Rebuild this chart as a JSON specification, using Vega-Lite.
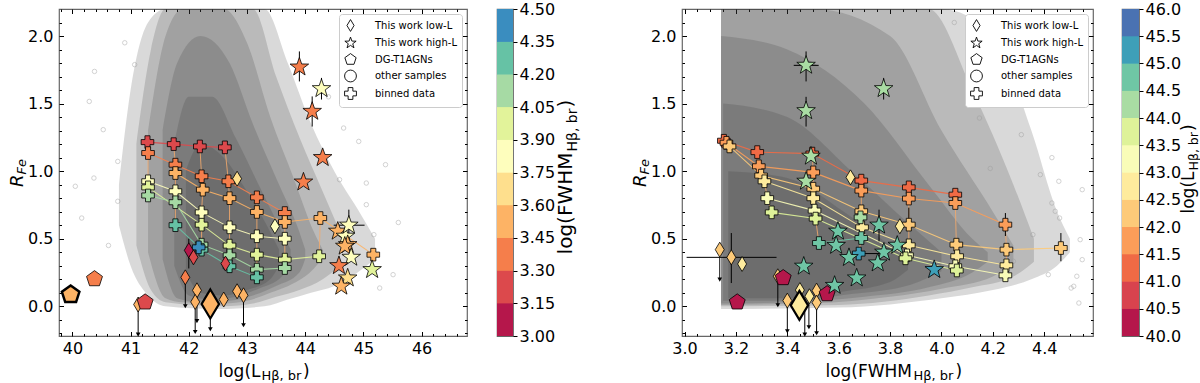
{
"$schema":"https://vega.github.io/schema/vega-lite/v6.json",
"padding":{"left":7,"top":0,"right":0,"bottom":0},
"config":{"font":"DejaVu Sans","view":{"stroke":"#666666","strokeWidth":1.2},
"axis":{"grid":false,"domain":false,"tickColor":"#000000","labelColor":"#000000","titleColor":"#000000","titleFontWeight":"normal","labelFontSize":16,"tickWidth":1},
"legend":{"symbolBaseFillColor":"#ffffff","symbolBaseStrokeColor":"#000000"}},
"datasets":{
"cloud_L":[
{"lev":1,"x":40.8,"lo":0.6,"hi":0.9},{"lev":1,"x":41.0,"lo":0.3,"hi":1.6},{"lev":1,"x":41.3,"lo":0.08,"hi":2.1},{"lev":1,"x":41.6,"lo":0.0,"hi":2.2},{"lev":1,"x":42.5,"lo":-0.02,"hi":2.2},{"lev":1,"x":43.3,"lo":0.0,"hi":2.2},{"lev":1,"x":43.7,"lo":0.05,"hi":1.8},{"lev":1,"x":44.1,"lo":0.1,"hi":1.35},{"lev":1,"x":44.5,"lo":0.15,"hi":1.0},{"lev":1,"x":44.9,"lo":0.25,"hi":0.72},{"lev":1,"x":45.2,"lo":0.35,"hi":0.5},
{"lev":2,"x":41.1,"lo":0.45,"hi":1.2},{"lev":2,"x":41.35,"lo":0.12,"hi":1.9},{"lev":2,"x":41.6,"lo":0.03,"hi":2.2},{"lev":2,"x":42.6,"lo":0.0,"hi":2.2},{"lev":2,"x":43.1,"lo":0.02,"hi":2.2},{"lev":2,"x":43.5,"lo":0.07,"hi":1.7},{"lev":2,"x":43.9,"lo":0.12,"hi":1.25},{"lev":2,"x":44.3,"lo":0.2,"hi":0.85},{"lev":2,"x":44.6,"lo":0.3,"hi":0.55},
{"lev":3,"x":41.3,"lo":0.4,"hi":1.3},{"lev":3,"x":41.6,"lo":0.06,"hi":2.0},{"lev":3,"x":41.9,"lo":0.03,"hi":2.2},{"lev":3,"x":42.6,"lo":0.02,"hi":2.2},{"lev":3,"x":43.0,"lo":0.04,"hi":1.95},{"lev":3,"x":43.4,"lo":0.1,"hi":1.4},{"lev":3,"x":43.8,"lo":0.17,"hi":0.95},{"lev":3,"x":44.15,"lo":0.28,"hi":0.55},{"lev":3,"x":44.3,"lo":0.36,"hi":0.42},
{"lev":4,"x":41.55,"lo":0.35,"hi":1.3},{"lev":4,"x":41.8,"lo":0.06,"hi":1.8},{"lev":4,"x":42.2,"lo":0.03,"hi":2.0},{"lev":4,"x":42.7,"lo":0.04,"hi":1.8},{"lev":4,"x":43.1,"lo":0.08,"hi":1.35},{"lev":4,"x":43.5,"lo":0.15,"hi":0.95},{"lev":4,"x":43.9,"lo":0.25,"hi":0.55},{"lev":4,"x":44.0,"lo":0.35,"hi":0.42},
{"lev":5,"x":41.75,"lo":0.3,"hi":1.2},{"lev":5,"x":42.0,"lo":0.08,"hi":1.55},{"lev":5,"x":42.4,"lo":0.05,"hi":1.55},{"lev":5,"x":42.8,"lo":0.07,"hi":1.25},{"lev":5,"x":43.2,"lo":0.13,"hi":0.9},{"lev":5,"x":43.6,"lo":0.22,"hi":0.55},{"lev":5,"x":43.75,"lo":0.33,"hi":0.42},
{"lev":6,"x":41.95,"lo":0.25,"hi":1.0},{"lev":6,"x":42.2,"lo":0.1,"hi":1.2},{"lev":6,"x":42.6,"lo":0.08,"hi":1.1},{"lev":6,"x":43.0,"lo":0.12,"hi":0.85},{"lev":6,"x":43.4,"lo":0.2,"hi":0.55},{"lev":6,"x":43.55,"lo":0.3,"hi":0.42}],
"cloud_F":[
{"lev":1,"x":3.142,"lo":-0.02,"hi":2.2},{"lev":1,"x":3.6,"lo":-0.01,"hi":2.2},{"lev":1,"x":4.0,"lo":0.06,"hi":2.2},{"lev":1,"x":4.2,"lo":0.12,"hi":2.0},{"lev":1,"x":4.35,"lo":0.2,"hi":1.3},{"lev":1,"x":4.45,"lo":0.3,"hi":0.7},{"lev":1,"x":4.5,"lo":0.4,"hi":0.5},
{"lev":2,"x":3.142,"lo":0.0,"hi":2.2},{"lev":2,"x":3.6,"lo":0.01,"hi":2.2},{"lev":2,"x":3.95,"lo":0.08,"hi":2.2},{"lev":2,"x":4.12,"lo":0.14,"hi":1.6},{"lev":2,"x":4.28,"lo":0.22,"hi":0.9},{"lev":2,"x":4.36,"lo":0.33,"hi":0.5},
{"lev":3,"x":3.142,"lo":0.01,"hi":2.2},{"lev":3,"x":3.5,"lo":0.02,"hi":2.2},{"lev":3,"x":3.8,"lo":0.07,"hi":2.0},{"lev":3,"x":4.0,"lo":0.13,"hi":1.3},{"lev":3,"x":4.2,"lo":0.22,"hi":0.7},{"lev":3,"x":4.28,"lo":0.32,"hi":0.45},
{"lev":4,"x":3.142,"lo":0.02,"hi":2.0},{"lev":4,"x":3.4,"lo":0.03,"hi":1.9},{"lev":4,"x":3.7,"lo":0.07,"hi":1.5},{"lev":4,"x":3.95,"lo":0.14,"hi":0.9},{"lev":4,"x":4.12,"lo":0.25,"hi":0.5},{"lev":4,"x":4.18,"lo":0.33,"hi":0.4},
{"lev":5,"x":3.15,"lo":0.04,"hi":1.5},{"lev":5,"x":3.4,"lo":0.04,"hi":1.4},{"lev":5,"x":3.65,"lo":0.09,"hi":1.0},{"lev":5,"x":3.88,"lo":0.16,"hi":0.6},{"lev":5,"x":4.0,"lo":0.26,"hi":0.4},
{"lev":6,"x":3.17,"lo":0.06,"hi":1.0},{"lev":6,"x":3.4,"lo":0.06,"hi":0.95},{"lev":6,"x":3.62,"lo":0.11,"hi":0.7},{"lev":6,"x":3.8,"lo":0.18,"hi":0.45},{"lev":6,"x":3.87,"lo":0.27,"hi":0.35}],
"oth_L":[{"x":40.16,"y":0.653},{"x":40.37,"y":0.949},{"x":40.05,"y":0.888},{"x":40.53,"y":1.307},{"x":40.38,"y":1.738},{"x":40.29,"y":1.516},{"x":40.78,"y":1.072},{"x":45.05,"y":0.912},{"x":45.51,"y":0.234},{"x":45.28,"y":0.135},{"x":45.18,"y":0.53},{"x":44.59,"y":0.937},{"x":45.38,"y":1.048},{"x":45.05,"y":0.752},{"x":41.07,"y":1.788},{"x":40.78,"y":0.777},{"x":44.92,"y":1.22},{"x":44.66,"y":1.319},{"x":40.62,"y":0.45},{"x":40.9,"y":1.95},{"x":45.6,"y":0.62},{"x":44.4,"y":1.55}],
"oth_F":[{"x":4.535,"y":0.024},{"x":4.527,"y":0.222},{"x":4.43,"y":0.764},{"x":4.385,"y":0.974},{"x":4.311,"y":1.27},{"x":4.237,"y":1.64},{"x":4.16,"y":1.886},{"x":4.356,"y":0.53},{"x":4.46,"y":0.653},{"x":4.505,"y":0.135},{"x":4.416,"y":0.234},{"x":4.28,"y":0.333},{"x":4.19,"y":1.02},{"x":4.148,"y":1.393},{"x":4.457,"y":0.925},{"x":4.548,"y":0.863},{"x":4.443,"y":0.703},{"x":4.54,"y":0.493},{"x":4.548,"y":0.345},{"x":4.515,"y":0.148},{"x":4.43,"y":1.1},{"x":4.25,"y":2.05},{"x":4.3,"y":1.75},{"x":4.05,"y":2.1}],
"bin_L":[
{"x":41.29,"y":1.215,"c":3.22,"row":"A","col":1},{"x":41.74,"y":1.2,"c":3.22,"row":"A","col":2},{"x":42.19,"y":1.183,"c":3.22,"row":"A","col":3},{"x":42.62,"y":1.176,"c":3.22,"row":"A","col":4},
{"x":41.3,"y":1.134,"c":3.37,"row":"B","col":1},{"x":41.77,"y":1.048,"c":3.37,"row":"B","col":2},{"x":42.22,"y":0.962,"c":3.37,"row":"B","col":3},{"x":42.68,"y":0.925,"c":3.37,"row":"B","col":4},{"x":43.17,"y":0.806,"c":3.37,"row":"B","col":5},{"x":43.65,"y":0.69,"c":3.37,"row":"B","col":6},
{"x":41.77,"y":0.986,"c":3.52,"row":"C","col":2},{"x":42.24,"y":0.863,"c":3.52,"row":"C","col":3},{"x":42.7,"y":0.8,"c":3.52,"row":"C","col":4},{"x":43.17,"y":0.698,"c":3.52,"row":"C","col":5},{"x":43.65,"y":0.624,"c":3.52,"row":"C","col":6},{"x":44.26,"y":0.653,"c":3.52,"row":"C","col":7},{"x":45.17,"y":0.382,"c":3.52,"row":"C","col":8},
{"x":41.3,"y":0.925,"c":3.82,"row":"D","col":1},{"x":41.77,"y":0.851,"c":3.82,"row":"D","col":2},{"x":42.22,"y":0.695,"c":3.82,"row":"D","col":3},{"x":42.7,"y":0.584,"c":3.82,"row":"D","col":4},{"x":43.17,"y":0.518,"c":3.82,"row":"D","col":5},{"x":43.65,"y":0.5,"c":3.82,"row":"D","col":6},
{"x":41.3,"y":0.88,"c":3.97,"row":"E","col":1},{"x":42.22,"y":0.604,"c":3.97,"row":"E","col":3},{"x":42.7,"y":0.449,"c":3.97,"row":"E","col":4},{"x":43.17,"y":0.382,"c":3.97,"row":"E","col":5},{"x":43.65,"y":0.345,"c":3.97,"row":"E","col":6},{"x":44.24,"y":0.37,"c":3.97,"row":"E","col":7},
{"x":41.3,"y":0.82,"c":4.12,"row":"F","col":1},{"x":41.77,"y":0.77,"c":4.12,"row":"F","col":2},{"x":42.22,"y":0.456,"c":4.12,"row":"F","col":3},{"x":42.7,"y":0.377,"c":4.12,"row":"F","col":4},{"x":43.17,"y":0.271,"c":4.12,"row":"F","col":5},{"x":43.65,"y":0.283,"c":4.12,"row":"F","col":6},
{"x":41.77,"y":0.6,"c":4.27,"row":"G","col":2},{"x":42.22,"y":0.419,"c":4.27,"row":"G","col":3},{"x":42.7,"y":0.296,"c":4.27,"row":"G","col":4},{"x":43.17,"y":0.214,"c":4.27,"row":"G","col":5},
{"x":42.17,"y":0.436,"c":4.4,"row":"X","col":9}],
"bin_F":[
{"x":3.153,"y":1.225,"c":41.2,"row":"R1","col":1},{"x":3.283,"y":1.141,"c":41.2,"row":"R1","col":2},{"x":3.497,"y":1.13,"c":41.2,"row":"R1","col":3},{"x":3.688,"y":0.93,"c":41.2,"row":"R1","col":4},{"x":3.873,"y":0.88,"c":41.2,"row":"R1","col":5},{"x":4.054,"y":0.826,"c":41.2,"row":"R1","col":6},
{"x":3.163,"y":1.21,"c":41.7,"row":"R2","col":1},{"x":3.289,"y":1.036,"c":41.7,"row":"R2","col":2},{"x":3.501,"y":0.991,"c":41.7,"row":"R2","col":3},{"x":3.688,"y":0.856,"c":41.7,"row":"R2","col":4},{"x":3.873,"y":0.797,"c":41.7,"row":"R2","col":5},{"x":4.054,"y":0.764,"c":41.7,"row":"R2","col":6},{"x":4.249,"y":0.604,"c":41.7,"row":"R2","col":7},
{"x":3.175,"y":1.183,"c":42.2,"row":"R3","col":1},{"x":3.298,"y":0.967,"c":42.2,"row":"R3","col":2},{"x":3.501,"y":0.87,"c":42.2,"row":"R3","col":3},{"x":3.688,"y":0.703,"c":42.2,"row":"R3","col":4},{"x":3.873,"y":0.604,"c":42.2,"row":"R3","col":5},{"x":4.058,"y":0.456,"c":42.2,"row":"R3","col":6},{"x":4.253,"y":0.419,"c":42.2,"row":"R3","col":7},{"x":4.465,"y":0.431,"c":42.2,"row":"R3","col":8},
{"x":3.311,"y":0.925,"c":42.7,"row":"R4","col":2},{"x":3.501,"y":0.8,"c":42.7,"row":"R4","col":3},{"x":3.691,"y":0.584,"c":42.7,"row":"R4","col":4},{"x":3.873,"y":0.451,"c":42.7,"row":"R4","col":5},{"x":4.061,"y":0.37,"c":42.7,"row":"R4","col":6},{"x":4.253,"y":0.303,"c":42.7,"row":"R4","col":7},
{"x":3.322,"y":0.8,"c":43.2,"row":"R5","col":2},{"x":3.506,"y":0.708,"c":43.2,"row":"R5","col":3},{"x":3.866,"y":0.377,"c":43.2,"row":"R5","col":5},{"x":4.054,"y":0.296,"c":43.2,"row":"R5","col":6},{"x":4.249,"y":0.229,"c":43.2,"row":"R5","col":7},
{"x":3.339,"y":0.695,"c":43.7,"row":"R6","col":2},{"x":3.51,"y":0.649,"c":43.7,"row":"R6","col":3},{"x":3.86,"y":0.355,"c":43.7,"row":"R6","col":5},{"x":4.06,"y":0.265,"c":43.7,"row":"R6","col":6},
{"x":3.685,"y":0.658,"c":44.2,"row":"R7","col":4},
{"x":3.523,"y":0.468,"c":44.7,"row":"R8","col":3},{"x":3.688,"y":0.505,"c":44.7,"row":"R8","col":4},
{"x":3.678,"y":0.39,"c":45.2,"row":"R9","col":4}],
"dia_L":[{"x":42.83,"y":0.944,"c":3.7},{"x":43.48,"y":0.592,"c":3.82},{"x":42.0,"y":0.414,"c":3.14},{"x":42.08,"y":0.362,"c":3.2},{"x":42.63,"y":0.316,"c":3.2},{"x":41.94,"y":0.214,"c":3.37},{"x":42.14,"y":0.118,"c":3.52},{"x":42.11,"y":0.032,"c":3.52},{"x":42.6,"y":0.05,"c":3.52},{"x":42.83,"y":0.111,"c":3.52},{"x":42.94,"y":0.081,"c":3.52},{"x":41.13,"y":0.013,"c":3.52},{"x":42.37,"y":0.017,"c":3.52,"stacked":true}],
"pent_L":[{"x":40.38,"y":0.202,"c":3.37},{"x":41.25,"y":0.03,"c":3.2},{"x":39.97,"y":0.086,"c":3.52,"stacked":true}],
"star_L":[{"x":43.9,"y":1.77,"c":3.37},{"x":44.28,"y":1.61,"c":3.82},{"x":44.12,"y":1.442,"c":3.37},{"x":44.3,"y":1.1,"c":3.37},{"x":43.97,"y":0.919,"c":3.37},{"x":44.56,"y":0.555,"c":3.52},{"x":44.69,"y":0.518,"c":3.82},{"x":44.73,"y":0.456,"c":3.52},{"x":44.68,"y":0.444,"c":3.52},{"x":44.79,"y":0.362,"c":3.82},{"x":44.58,"y":0.3,"c":3.37},{"x":45.15,"y":0.271,"c":3.97},{"x":44.73,"y":0.209,"c":3.7},{"x":44.62,"y":0.148,"c":3.52},{"x":44.75,"y":0.6,"c":3.82}],
"errv_L":[{"x":43.9,"y":1.664,"y2":1.886},{"x":44.28,"y":1.53,"y2":1.69},{"x":44.12,"y":1.33,"y2":1.553},{"x":44.75,"y":0.48,"y2":0.715},{"x":42.0,"y":0.28,"y2":0.5}],
"errh_L":[{"x":44.49,"x2":45.02,"y":0.6}],
"lim_L":[{"x":41.94,"y":0.214,"lo":0.0},{"x":42.14,"y":0.118,"lo":-0.11},{"x":42.11,"y":0.032,"lo":-0.19},{"x":42.37,"y":0.017,"lo":-0.17},{"x":42.94,"y":0.081,"lo":-0.14},{"x":41.13,"y":0.013,"lo":-0.21}],
"dia_F":[{"x":3.646,"y":0.954,"c":42.8},{"x":3.838,"y":0.592,"c":42.8},{"x":3.137,"y":0.419,"c":42.1},{"x":3.182,"y":0.362,"c":42.1},{"x":3.224,"y":0.313,"c":42.7},{"x":3.363,"y":0.222,"c":42.1},{"x":3.4,"y":0.042,"c":42.1},{"x":3.449,"y":0.12,"c":42.7},{"x":3.486,"y":0.074,"c":42.7},{"x":3.514,"y":0.116,"c":42.2},{"x":3.514,"y":0.027,"c":42.2},{"x":3.447,"y":0.007,"c":42.7,"stacked":true}],
"pent_F":[{"x":3.205,"y":0.03,"c":40.2},{"x":3.384,"y":0.21,"c":40.2},{"x":3.555,"y":0.091,"c":40.2}],
"star_F":[{"x":3.473,"y":1.783,"c":44.1},{"x":3.473,"y":1.447,"c":44.1},{"x":3.775,"y":1.61,"c":44.1},{"x":3.492,"y":1.11,"c":44.1},{"x":3.473,"y":0.925,"c":44.1},{"x":3.597,"y":0.555,"c":44.7},{"x":3.59,"y":0.45,"c":44.7},{"x":3.828,"y":0.451,"c":44.7},{"x":3.776,"y":0.4,"c":44.7},{"x":3.64,"y":0.36,"c":44.7},{"x":3.752,"y":0.32,"c":44.7},{"x":3.464,"y":0.296,"c":44.7},{"x":3.972,"y":0.271,"c":45.2},{"x":3.67,"y":0.209,"c":44.7},{"x":3.584,"y":0.154,"c":44.7},{"x":3.757,"y":0.6,"c":44.7}],
"errv_F":[{"x":3.473,"y":1.664,"y2":1.886},{"x":3.473,"y":1.33,"y2":1.55},{"x":3.775,"y":1.53,"y2":1.69},{"x":3.757,"y":0.48,"y2":0.715},{"x":3.182,"y":0.172,"y2":0.542},{"x":4.249,"y":0.52,"y2":0.69},{"x":4.465,"y":0.333,"y2":0.542},{"x":3.873,"y":0.6,"y2":0.73}],
"errh_F":[{"x":3.425,"x2":3.522,"y":1.783},{"x":3.008,"x2":3.358,"y":0.362},{"x":3.685,"x2":3.76,"y":0.39}],
"lim_F":[{"x":3.137,"y":0.419,"lo":0.197},{"x":3.363,"y":0.222,"lo":0.007},{"x":3.4,"y":0.042,"lo":-0.185},{"x":3.468,"y":0.007,"lo":-0.21},{"x":3.484,"y":0.074,"lo":-0.155},{"x":3.514,"y":0.116,"lo":-0.2}],
"cb_L":[{"lo":3.0,"hi":3.15},{"lo":3.15,"hi":3.3},{"lo":3.3,"hi":3.45},{"lo":3.45,"hi":3.6},{"lo":3.6,"hi":3.75},{"lo":3.75,"hi":3.9},{"lo":3.9,"hi":4.05},{"lo":4.05,"hi":4.2},{"lo":4.2,"hi":4.35},{"lo":4.35,"hi":4.5}],
"cb_F":[{"lo":40,"hi":40.5},{"lo":40.5,"hi":41},{"lo":41,"hi":41.5},{"lo":41.5,"hi":42},{"lo":42,"hi":42.5},{"lo":42.5,"hi":43},{"lo":43,"hi":43.5},{"lo":43.5,"hi":44},{"lo":44,"hi":44.5},{"lo":44.5,"hi":45},{"lo":45,"hi":45.5},{"lo":45.5,"hi":46}]
},
"hconcat":[
{"hconcat":[
{"width":408,"height":327,
"layer":[
{"data":{"name":"cloud_L"},"mark":{"type":"area","interpolate":"monotone","color":"#333333","opacity":0.19,"clip":true},
"encoding":{"x":{"field":"x","type":"quantitative","scale":{"domain":[39.77,46.78],"nice":false,"zero":false},
"axis":{"orient":"bottom","values":[40,41,42,43,44,45,46],"format":"d","tickSize":-4.5,"labelPadding":9,"labelFontSize":16,"labelFlush":false,"labelOverlap":false,"title":"log(L","titleFontSize":17,"titleX":201,"titleY":40,"titleAlign":"right","titleBaseline":"alphabetic","titleAngle":0}},
"y":{"field":"lo","type":"quantitative","stack":null,"scale":{"domain":[-0.22,2.2],"nice":false,"zero":false},
"axis":{"orient":"left","values":[0,0.5,1,1.5,2],"format":".1f","tickSize":-4.5,"labelPadding":10.5,"labelFontSize":16,"labelFlush":false,"labelOverlap":false,"title":"R","titleFontSize":18,"titleFontStyle":"italic","titleAngle":270,"titleX":-37,"titleY":171.25,"titleAlign":"center","titleBaseline":"alphabetic"}},
"y2":{"field":"hi"},
"detail":{"field":"lev","type":"nominal"}}},
{"data":{"name":"oth_L"},"mark":{"type":"point","filled":false,"color":"#9a9a9a","strokeWidth":0.8,"opacity":0.55,"size":20},
"encoding":{"x":{"field":"x","type":"quantitative","scale":{"domain":[39.77,46.78],"nice":false,"zero":false},
"axis":{"orient":"bottom","values":[39.8,40.2,40.4,40.6,40.8,41.2,41.4,41.6,41.8,42.2,42.4,42.6,42.8,43.2,43.4,43.6,43.8,44.2,44.4,44.6,44.8,45.2,45.4,45.6,45.8,46.2,46.4,46.6],"tickSize":-2.5,"labels":false,"title":"Hβ, br","titleFontSize":13,"titleX":202,"titleY":43,"titleAlign":"left","titleBaseline":"alphabetic","titleAngle":0}},
"y":{"field":"y","type":"quantitative","scale":{"domain":[-0.22,2.2],"nice":false,"zero":false},
"axis":{"orient":"left","values":[-0.2,-0.1,0.1,0.2,0.3,0.4,0.6,0.7,0.8,0.9,1.1,1.2,1.3,1.4,1.6,1.7,1.8,1.9,2.1],"tickSize":-2.5,"labels":false,"title":"Fe","titleFontSize":13,"titleFontStyle":"italic","titleAngle":270,"titleX":-33.5,"titleY":157.25,"titleAlign":"center","titleBaseline":"alphabetic"}},
"shape":{"datum":"other samples","type":"nominal","scale":{"domain":["This work low-L","This work high-L","DG-T1AGNs","other samples","binned data"],"range":["M0,-1L0.6,0L0,1L-0.6,0Z","M0,-1L0.235,-0.324L0.951,-0.309L0.38,0.124L0.588,0.809L0,0.4L-0.588,0.809L-0.38,0.124L-0.951,-0.309L-0.235,-0.324Z","M0,-1L0.951,-0.309L0.588,0.809L-0.588,0.809L-0.951,-0.309Z","circle","cross"]},
"legend":{"title":null,"orient":"top-right","offset":5,"padding":5,"fillColor":"#ffffff","strokeColor":"#cccccc","cornerRadius":3,"labelFontSize":10,"labelColor":"#000000","symbolSize":140,"symbolFillColor":"#ffffff","symbolStrokeColor":"#000000","symbolStrokeWidth":0.9,"symbolOpacity":1,"labelOffset":18,"rowPadding":0.5}}}},
{"data":{"name":"bin_L"},"mark":{"type":"line","color":"#f3a96b","strokeWidth":1,"opacity":0.85},
"encoding":{"x":{"field":"x","type":"quantitative","scale":{"domain":[39.77,46.78],"nice":false,"zero":false},
"axis":{"orient":"top","values":[40,41,42,43,44,45,46],"tickSize":-4.5,"labels":false,"title":null}},
"y":{"field":"y","type":"quantitative","scale":{"domain":[-0.22,2.2],"nice":false,"zero":false},
"axis":{"orient":"right","values":[0,0.5,1,1.5,2],"tickSize":-4.5,"labels":false,"title":null}},
"detail":{"field":"col","type":"nominal"},"order":{"field":"y","type":"quantitative"}}},
{"data":{"name":"bin_L"},"mark":{"type":"line","strokeWidth":1.1,"opacity":0.9},
"encoding":{"x":{"field":"x","type":"quantitative","scale":{"domain":[39.77,46.78],"nice":false,"zero":false},
"axis":{"orient":"top","values":[39.8,40.2,40.4,40.6,40.8,41.2,41.4,41.6,41.8,42.2,42.4,42.6,42.8,43.2,43.4,43.6,43.8,44.2,44.4,44.6,44.8,45.2,45.4,45.6,45.8,46.2,46.4,46.6],"tickSize":-2.5,"labels":false,"title":null}},
"y":{"field":"y","type":"quantitative","scale":{"domain":[-0.22,2.2],"nice":false,"zero":false},
"axis":{"orient":"right","values":[-0.2,-0.1,0.1,0.2,0.3,0.4,0.6,0.7,0.8,0.9,1.1,1.2,1.3,1.4,1.6,1.7,1.8,1.9,2.1],"tickSize":-2.5,"labels":false,"title":null}},
"color":{"field":"c","type":"quantitative","scale":{"type":"threshold","domain":[3.15,3.3,3.45,3.6,3.75,3.9,4.05,4.2,4.35],"range":["#b5174b","#dc494c","#f57e4b","#fdb365","#fedf8d","#fefebd","#e2f39a","#a6daa4","#66c2a5","#3a8dbf"]},"legend":null},
"detail":{"field":"row","type":"nominal"}}},
{"data":{"name":"errv_L"},"mark":{"type":"rule","color":"#000000","strokeWidth":1},
"encoding":{"x":{"field":"x","type":"quantitative","scale":{"domain":[39.77,46.78],"nice":false,"zero":false},"axis":null},"y":{"field":"y","type":"quantitative","scale":{"domain":[-0.22,2.2],"nice":false,"zero":false},"axis":null},"y2":{"field":"y2"}}},
{"data":{"name":"errh_L"},"mark":{"type":"rule","color":"#000000","strokeWidth":1},
"encoding":{"x":{"field":"x","type":"quantitative","scale":{"domain":[39.77,46.78],"nice":false,"zero":false},
"axis":{"orient":"bottom","ticks":false,"labels":false,"title":")","titleFontSize":17,"titleX":243.5,"titleY":40,"titleAlign":"left","titleBaseline":"alphabetic","titleAngle":0}},"x2":{"field":"x2"},"y":{"field":"y","type":"quantitative","scale":{"domain":[-0.22,2.2],"nice":false,"zero":false},"axis":null}}},
{"data":{"name":"lim_L"},"mark":{"type":"rule","color":"#000000","strokeWidth":1},
"encoding":{"x":{"field":"x","type":"quantitative","scale":{"domain":[39.77,46.78],"nice":false,"zero":false},"axis":null},"y":{"field":"y","type":"quantitative","scale":{"domain":[-0.22,2.2],"nice":false,"zero":false},"axis":null},"y2":{"field":"lo"}}},
{"data":{"name":"lim_L"},"mark":{"type":"point","shape":"triangle-down","filled":true,"color":"#000000","size":22,"opacity":1},
"encoding":{"x":{"field":"x","type":"quantitative","scale":{"domain":[39.77,46.78],"nice":false,"zero":false},"axis":null},"y":{"field":"lo","type":"quantitative","scale":{"domain":[-0.22,2.2],"nice":false,"zero":false},"axis":null}}},
{"data":{"name":"bin_L"},"mark":{"type":"point","filled":true,"stroke":"#000000","strokeWidth":0.8,"opacity":1,"size":160},
"encoding":{"x":{"field":"x","type":"quantitative","scale":{"domain":[39.77,46.78],"nice":false,"zero":false},"axis":null},"y":{"field":"y","type":"quantitative","scale":{"domain":[-0.22,2.2],"nice":false,"zero":false},"axis":null},
"color":{"field":"c","type":"quantitative","scale":{"type":"threshold","domain":[3.15,3.3,3.45,3.6,3.75,3.9,4.05,4.2,4.35],"range":["#b5174b","#dc494c","#f57e4b","#fdb365","#fedf8d","#fefebd","#e2f39a","#a6daa4","#66c2a5","#3a8dbf"]},"legend":null},
"shape":{"datum":"binned data","type":"nominal"}}},
{"data":{"name":"dia_L"},"mark":{"type":"point","filled":true,"stroke":"#000000","opacity":1},
"encoding":{"x":{"field":"x","type":"quantitative","scale":{"domain":[39.77,46.78],"nice":false,"zero":false},"axis":null},"y":{"field":"y","type":"quantitative","scale":{"domain":[-0.22,2.2],"nice":false,"zero":false},"axis":null},
"color":{"field":"c","type":"quantitative","scale":{"type":"threshold","domain":[3.15,3.3,3.45,3.6,3.75,3.9,4.05,4.2,4.35],"range":["#b5174b","#dc494c","#f57e4b","#fdb365","#fedf8d","#fefebd","#e2f39a","#a6daa4","#66c2a5","#3a8dbf"]},"legend":null},
"shape":{"datum":"This work low-L","type":"nominal"},
"size":{"condition":{"test":"datum.stacked","value":841},"value":225},
"strokeWidth":{"condition":{"test":"datum.stacked","value":2.2},"value":0.8}}},
{"data":{"name":"pent_L"},"mark":{"type":"point","filled":true,"stroke":"#000000","opacity":1},
"encoding":{"x":{"field":"x","type":"quantitative","scale":{"domain":[39.77,46.78],"nice":false,"zero":false},"axis":null},"y":{"field":"y","type":"quantitative","scale":{"domain":[-0.22,2.2],"nice":false,"zero":false},"axis":null},
"color":{"field":"c","type":"quantitative","scale":{"type":"threshold","domain":[3.15,3.3,3.45,3.6,3.75,3.9,4.05,4.2,4.35],"range":["#b5174b","#dc494c","#f57e4b","#fdb365","#fedf8d","#fefebd","#e2f39a","#a6daa4","#66c2a5","#3a8dbf"]},"legend":null},
"shape":{"datum":"DG-T1AGNs","type":"nominal"},
"size":{"condition":{"test":"datum.stacked","value":340},"value":280},
"strokeWidth":{"condition":{"test":"datum.stacked","value":2.5},"value":0.8}}},
{"data":{"name":"star_L"},"mark":{"type":"point","filled":true,"stroke":"#000000","strokeWidth":0.8,"opacity":1,"size":380},
"encoding":{"x":{"field":"x","type":"quantitative","scale":{"domain":[39.77,46.78],"nice":false,"zero":false},"axis":null},"y":{"field":"y","type":"quantitative","scale":{"domain":[-0.22,2.2],"nice":false,"zero":false},"axis":null},
"color":{"field":"c","type":"quantitative","scale":{"type":"threshold","domain":[3.15,3.3,3.45,3.6,3.75,3.9,4.05,4.2,4.35],"range":["#b5174b","#dc494c","#f57e4b","#fdb365","#fedf8d","#fefebd","#e2f39a","#a6daa4","#66c2a5","#3a8dbf"]},"legend":null},
"shape":{"datum":"This work high-L","type":"nominal"}}}
],
"resolve":{"axis":{"x":"independent","y":"independent"}}},
{"width":16,"height":327,"data":{"name":"cb_L"},
"layer":[
{"mark":{"type":"rect"},"encoding":{
"x":{"datum":0,"type":"quantitative","scale":{"domain":[0,1],"nice":false,"zero":false},"axis":null},"x2":{"datum":1},
"y":{"field":"lo","type":"quantitative","scale":{"domain":[3,4.5],"nice":false,"zero":false},
"axis":{"orient":"right","values":[3,3.15,3.3,3.45,3.6,3.75,3.9,4.05,4.2,4.35,4.5],"format":".2f","tickSize":4,"labelPadding":2,"labelFontSize":16,"labelFlush":false,"labelOverlap":false,"title":"log(FWHM","titleFontSize":20,"titleAngle":270,"titleX":58,"titleY":143,"titleAlign":"right","titleBaseline":"alphabetic"}},
"y2":{"field":"hi"},
"color":{"field":"lo","type":"quantitative","scale":{"type":"threshold","domain":[3.15,3.3,3.45,3.6,3.75,3.9,4.05,4.2,4.35],"range":["#b5174b","#dc494c","#f57e4b","#fdb365","#fedf8d","#fefebd","#e2f39a","#a6daa4","#66c2a5","#3a8dbf"]},"legend":null}}},
{"mark":{"type":"rect"},"encoding":{
"x":{"datum":0,"type":"quantitative","scale":{"domain":[0,1],"nice":false,"zero":false},"axis":null},"x2":{"datum":1},
"y":{"field":"lo","type":"quantitative","scale":{"domain":[3,4.5],"nice":false,"zero":false},
"axis":{"orient":"right","ticks":false,"labels":false,"title":"Hβ, br","titleFontSize":14,"titleAngle":270,"titleX":63,"titleY":142,"titleAlign":"left","titleBaseline":"alphabetic"}},
"y2":{"field":"hi"},
"color":{"field":"lo","type":"quantitative","scale":{"type":"threshold","domain":[3.15,3.3,3.45,3.6,3.75,3.9,4.05,4.2,4.35],"range":["#b5174b","#dc494c","#f57e4b","#fdb365","#fedf8d","#fefebd","#e2f39a","#a6daa4","#66c2a5","#3a8dbf"]},"legend":null}}},
{"mark":{"type":"rect"},"encoding":{
"x":{"datum":0,"type":"quantitative","scale":{"domain":[0,1],"nice":false,"zero":false},"axis":null},"x2":{"datum":1},
"y":{"field":"lo","type":"quantitative","scale":{"domain":[3,4.5],"nice":false,"zero":false},
"axis":{"orient":"right","ticks":false,"labels":false,"title":")","titleFontSize":20,"titleAngle":270,"titleX":58,"titleY":98,"titleAlign":"left","titleBaseline":"alphabetic"}},
"y2":{"field":"hi"},
"color":{"field":"lo","type":"quantitative","scale":{"type":"threshold","domain":[3.15,3.3,3.45,3.6,3.75,3.9,4.05,4.2,4.35],"range":["#b5174b","#dc494c","#f57e4b","#fdb365","#fedf8d","#fefebd","#e2f39a","#a6daa4","#66c2a5","#3a8dbf"]},"legend":null}}}
],
"resolve":{"axis":{"y":"independent"}}}
],"spacing":27,"resolve":{"scale":{"color":"independent","shape":"independent"}}},
{"hconcat":[
{"width":411,"height":327,
"layer":[
{"data":{"name":"cloud_F"},"mark":{"type":"area","interpolate":"monotone","color":"#333333","opacity":0.19,"clip":true},
"encoding":{"x":{"field":"x","type":"quantitative","scale":{"domain":[2.99,4.59],"nice":false,"zero":false},
"axis":{"orient":"bottom","values":[3,3.2,3.4,3.6,3.8,4,4.2,4.4],"format":".1f","tickSize":-4.5,"labelPadding":9,"labelFontSize":16,"labelFlush":false,"labelOverlap":false,"title":"log(FWHM","titleFontSize":17,"titleX":229.5,"titleY":40,"titleAlign":"right","titleBaseline":"alphabetic","titleAngle":0}},
"y":{"field":"lo","type":"quantitative","stack":null,"scale":{"domain":[-0.22,2.2],"nice":false,"zero":false},
"axis":{"orient":"left","values":[0,0.5,1,1.5,2],"format":".1f","tickSize":-4.5,"labelPadding":10.5,"labelFontSize":16,"labelFlush":false,"labelOverlap":false,"title":"R","titleFontSize":18,"titleFontStyle":"italic","titleAngle":270,"titleX":-37,"titleY":171.25,"titleAlign":"center","titleBaseline":"alphabetic"}},
"y2":{"field":"hi"},
"detail":{"field":"lev","type":"nominal"}}},
{"data":{"name":"oth_F"},"mark":{"type":"point","filled":false,"color":"#9a9a9a","strokeWidth":0.8,"opacity":0.55,"size":20},
"encoding":{"x":{"field":"x","type":"quantitative","scale":{"domain":[2.99,4.59],"nice":false,"zero":false},
"axis":{"orient":"bottom","values":[3.05,3.1,3.15,3.25,3.3,3.35,3.45,3.5,3.55,3.65,3.7,3.75,3.85,3.9,3.95,4.05,4.1,4.15,4.25,4.3,4.35,4.45,4.5,4.55],"tickSize":-2.5,"labels":false,"title":"Hβ, br","titleFontSize":13,"titleX":231,"titleY":43,"titleAlign":"left","titleBaseline":"alphabetic","titleAngle":0}},
"y":{"field":"y","type":"quantitative","scale":{"domain":[-0.22,2.2],"nice":false,"zero":false},
"axis":{"orient":"left","values":[-0.2,-0.1,0.1,0.2,0.3,0.4,0.6,0.7,0.8,0.9,1.1,1.2,1.3,1.4,1.6,1.7,1.8,1.9,2.1],"tickSize":-2.5,"labels":false,"title":"Fe","titleFontSize":13,"titleFontStyle":"italic","titleAngle":270,"titleX":-33.5,"titleY":157.25,"titleAlign":"center","titleBaseline":"alphabetic"}},
"shape":{"datum":"other samples","type":"nominal","scale":{"domain":["This work low-L","This work high-L","DG-T1AGNs","other samples","binned data"],"range":["M0,-1L0.6,0L0,1L-0.6,0Z","M0,-1L0.235,-0.324L0.951,-0.309L0.38,0.124L0.588,0.809L0,0.4L-0.588,0.809L-0.38,0.124L-0.951,-0.309L-0.235,-0.324Z","M0,-1L0.951,-0.309L0.588,0.809L-0.588,0.809L-0.951,-0.309Z","circle","cross"]},
"legend":{"title":null,"orient":"top-right","offset":5,"padding":5,"fillColor":"#ffffff","strokeColor":"#cccccc","cornerRadius":3,"labelFontSize":10,"labelColor":"#000000","symbolSize":140,"symbolFillColor":"#ffffff","symbolStrokeColor":"#000000","symbolStrokeWidth":0.9,"symbolOpacity":1,"labelOffset":18,"rowPadding":0.5}}}},
{"data":{"name":"bin_F"},"mark":{"type":"line","color":"#f3a96b","strokeWidth":1,"opacity":0.85},
"encoding":{"x":{"field":"x","type":"quantitative","scale":{"domain":[2.99,4.59],"nice":false,"zero":false},
"axis":{"orient":"top","values":[3,3.2,3.4,3.6,3.8,4,4.2,4.4],"tickSize":-4.5,"labels":false,"title":null}},
"y":{"field":"y","type":"quantitative","scale":{"domain":[-0.22,2.2],"nice":false,"zero":false},
"axis":{"orient":"right","values":[0,0.5,1,1.5,2],"tickSize":-4.5,"labels":false,"title":null}},
"detail":{"field":"col","type":"nominal"},"order":{"field":"y","type":"quantitative"}}},
{"data":{"name":"bin_F"},"mark":{"type":"line","strokeWidth":1.1,"opacity":0.9},
"encoding":{"x":{"field":"x","type":"quantitative","scale":{"domain":[2.99,4.59],"nice":false,"zero":false},
"axis":{"orient":"top","values":[3.05,3.1,3.15,3.25,3.3,3.35,3.45,3.5,3.55,3.65,3.7,3.75,3.85,3.9,3.95,4.05,4.1,4.15,4.25,4.3,4.35,4.45,4.5,4.55],"tickSize":-2.5,"labels":false,"title":null}},
"y":{"field":"y","type":"quantitative","scale":{"domain":[-0.22,2.2],"nice":false,"zero":false},
"axis":{"orient":"right","values":[-0.2,-0.1,0.1,0.2,0.3,0.4,0.6,0.7,0.8,0.9,1.1,1.2,1.3,1.4,1.6,1.7,1.8,1.9,2.1],"tickSize":-2.5,"labels":false,"title":null}},
"color":{"field":"c","type":"quantitative","scale":{"type":"threshold","domain":[40.5,41,41.5,42,42.5,43,43.5,44,44.5,45,45.5],"range":["#b5174b","#d8434e","#f06a45","#fb9d59","#fdca79","#feeb9d","#f9fcb8","#def299","#a9dca3","#6fc6a5","#3e9fb8","#4a72b2"]},"legend":null},
"detail":{"field":"row","type":"nominal"}}},
{"data":{"name":"errv_F"},"mark":{"type":"rule","color":"#000000","strokeWidth":1},
"encoding":{"x":{"field":"x","type":"quantitative","scale":{"domain":[2.99,4.59],"nice":false,"zero":false},"axis":null},"y":{"field":"y","type":"quantitative","scale":{"domain":[-0.22,2.2],"nice":false,"zero":false},"axis":null},"y2":{"field":"y2"}}},
{"data":{"name":"errh_F"},"mark":{"type":"rule","color":"#000000","strokeWidth":1},
"encoding":{"x":{"field":"x","type":"quantitative","scale":{"domain":[2.99,4.59],"nice":false,"zero":false},
"axis":{"orient":"bottom","ticks":false,"labels":false,"title":")","titleFontSize":17,"titleX":273,"titleY":40,"titleAlign":"left","titleBaseline":"alphabetic","titleAngle":0}},"x2":{"field":"x2"},"y":{"field":"y","type":"quantitative","scale":{"domain":[-0.22,2.2],"nice":false,"zero":false},"axis":null}}},
{"data":{"name":"lim_F"},"mark":{"type":"rule","color":"#000000","strokeWidth":1},
"encoding":{"x":{"field":"x","type":"quantitative","scale":{"domain":[2.99,4.59],"nice":false,"zero":false},"axis":null},"y":{"field":"y","type":"quantitative","scale":{"domain":[-0.22,2.2],"nice":false,"zero":false},"axis":null},"y2":{"field":"lo"}}},
{"data":{"name":"lim_F"},"mark":{"type":"point","shape":"triangle-down","filled":true,"color":"#000000","size":22,"opacity":1},
"encoding":{"x":{"field":"x","type":"quantitative","scale":{"domain":[2.99,4.59],"nice":false,"zero":false},"axis":null},"y":{"field":"lo","type":"quantitative","scale":{"domain":[-0.22,2.2],"nice":false,"zero":false},"axis":null}}},
{"data":{"name":"bin_F"},"mark":{"type":"point","filled":true,"stroke":"#000000","strokeWidth":0.8,"opacity":1,"size":160},
"encoding":{"x":{"field":"x","type":"quantitative","scale":{"domain":[2.99,4.59],"nice":false,"zero":false},"axis":null},"y":{"field":"y","type":"quantitative","scale":{"domain":[-0.22,2.2],"nice":false,"zero":false},"axis":null},
"color":{"field":"c","type":"quantitative","scale":{"type":"threshold","domain":[40.5,41,41.5,42,42.5,43,43.5,44,44.5,45,45.5],"range":["#b5174b","#d8434e","#f06a45","#fb9d59","#fdca79","#feeb9d","#f9fcb8","#def299","#a9dca3","#6fc6a5","#3e9fb8","#4a72b2"]},"legend":null},
"shape":{"datum":"binned data","type":"nominal"}}},
{"data":{"name":"dia_F"},"mark":{"type":"point","filled":true,"stroke":"#000000","opacity":1},
"encoding":{"x":{"field":"x","type":"quantitative","scale":{"domain":[2.99,4.59],"nice":false,"zero":false},"axis":null},"y":{"field":"y","type":"quantitative","scale":{"domain":[-0.22,2.2],"nice":false,"zero":false},"axis":null},
"color":{"field":"c","type":"quantitative","scale":{"type":"threshold","domain":[40.5,41,41.5,42,42.5,43,43.5,44,44.5,45,45.5],"range":["#b5174b","#d8434e","#f06a45","#fb9d59","#fdca79","#feeb9d","#f9fcb8","#def299","#a9dca3","#6fc6a5","#3e9fb8","#4a72b2"]},"legend":null},
"shape":{"datum":"This work low-L","type":"nominal"},
"size":{"condition":{"test":"datum.stacked","value":841},"value":225},
"strokeWidth":{"condition":{"test":"datum.stacked","value":2.2},"value":0.8}}},
{"data":{"name":"pent_F"},"mark":{"type":"point","filled":true,"stroke":"#000000","strokeWidth":0.8,"opacity":1,"size":280},
"encoding":{"x":{"field":"x","type":"quantitative","scale":{"domain":[2.99,4.59],"nice":false,"zero":false},"axis":null},"y":{"field":"y","type":"quantitative","scale":{"domain":[-0.22,2.2],"nice":false,"zero":false},"axis":null},
"color":{"field":"c","type":"quantitative","scale":{"type":"threshold","domain":[40.5,41,41.5,42,42.5,43,43.5,44,44.5,45,45.5],"range":["#b5174b","#d8434e","#f06a45","#fb9d59","#fdca79","#feeb9d","#f9fcb8","#def299","#a9dca3","#6fc6a5","#3e9fb8","#4a72b2"]},"legend":null},
"shape":{"datum":"DG-T1AGNs","type":"nominal"}}},
{"data":{"name":"star_F"},"mark":{"type":"point","filled":true,"stroke":"#000000","strokeWidth":0.8,"opacity":1,"size":380},
"encoding":{"x":{"field":"x","type":"quantitative","scale":{"domain":[2.99,4.59],"nice":false,"zero":false},"axis":null},"y":{"field":"y","type":"quantitative","scale":{"domain":[-0.22,2.2],"nice":false,"zero":false},"axis":null},
"color":{"field":"c","type":"quantitative","scale":{"type":"threshold","domain":[40.5,41,41.5,42,42.5,43,43.5,44,44.5,45,45.5],"range":["#b5174b","#d8434e","#f06a45","#fb9d59","#fdca79","#feeb9d","#f9fcb8","#def299","#a9dca3","#6fc6a5","#3e9fb8","#4a72b2"]},"legend":null},
"shape":{"datum":"This work high-L","type":"nominal"}}}
],
"resolve":{"axis":{"x":"independent","y":"independent"}}},
{"width":17,"height":327,"data":{"name":"cb_F"},
"layer":[
{"mark":{"type":"rect"},"encoding":{
"x":{"datum":0,"type":"quantitative","scale":{"domain":[0,1],"nice":false,"zero":false},"axis":null},"x2":{"datum":1},
"y":{"field":"lo","type":"quantitative","scale":{"domain":[40,46],"nice":false,"zero":false},
"axis":{"orient":"right","values":[40,40.5,41,41.5,42,42.5,43,43.5,44,44.5,45,45.5,46],"format":".1f","tickSize":4,"labelPadding":2,"labelFontSize":16,"labelFlush":false,"labelOverlap":false,"title":"log(L","titleFontSize":17,"titleAngle":270,"titleX":54,"titleY":162,"titleAlign":"right","titleBaseline":"alphabetic"}},
"y2":{"field":"hi"},
"color":{"field":"lo","type":"quantitative","scale":{"type":"threshold","domain":[40.5,41,41.5,42,42.5,43,43.5,44,44.5,45,45.5],"range":["#b5174b","#d8434e","#f06a45","#fb9d59","#fdca79","#feeb9d","#f9fcb8","#def299","#a9dca3","#6fc6a5","#3e9fb8","#4a72b2"]},"legend":null}}},
{"mark":{"type":"rect"},"encoding":{
"x":{"datum":0,"type":"quantitative","scale":{"domain":[0,1],"nice":false,"zero":false},"axis":null},"x2":{"datum":1},
"y":{"field":"lo","type":"quantitative","scale":{"domain":[40,46],"nice":false,"zero":false},
"axis":{"orient":"right","ticks":false,"labels":false,"title":"Hβ, br","titleFontSize":12.5,"titleAngle":270,"titleX":58,"titleY":161,"titleAlign":"left","titleBaseline":"alphabetic"}},
"y2":{"field":"hi"},
"color":{"field":"lo","type":"quantitative","scale":{"type":"threshold","domain":[40.5,41,41.5,42,42.5,43,43.5,44,44.5,45,45.5],"range":["#b5174b","#d8434e","#f06a45","#fb9d59","#fdca79","#feeb9d","#f9fcb8","#def299","#a9dca3","#6fc6a5","#3e9fb8","#4a72b2"]},"legend":null}}},
{"mark":{"type":"rect"},"encoding":{
"x":{"datum":0,"type":"quantitative","scale":{"domain":[0,1],"nice":false,"zero":false},"axis":null},"x2":{"datum":1},
"y":{"field":"lo","type":"quantitative","scale":{"domain":[40,46],"nice":false,"zero":false},
"axis":{"orient":"right","ticks":false,"labels":false,"title":")","titleFontSize":17,"titleAngle":270,"titleX":54,"titleY":121.5,"titleAlign":"left","titleBaseline":"alphabetic"}},
"y2":{"field":"hi"},
"color":{"field":"lo","type":"quantitative","scale":{"type":"threshold","domain":[40.5,41,41.5,42,42.5,43,43.5,44,44.5,45,45.5],"range":["#b5174b","#d8434e","#f06a45","#fb9d59","#fdca79","#feeb9d","#f9fcb8","#def299","#a9dca3","#6fc6a5","#3e9fb8","#4a72b2"]},"legend":null}}}
],
"resolve":{"axis":{"y":"independent"}}}
],"spacing":26,"resolve":{"scale":{"color":"independent","shape":"independent"}}}
],
"spacing":50,
"resolve":{"scale":{"color":"independent","shape":"independent","x":"independent","y":"independent"}}
}
